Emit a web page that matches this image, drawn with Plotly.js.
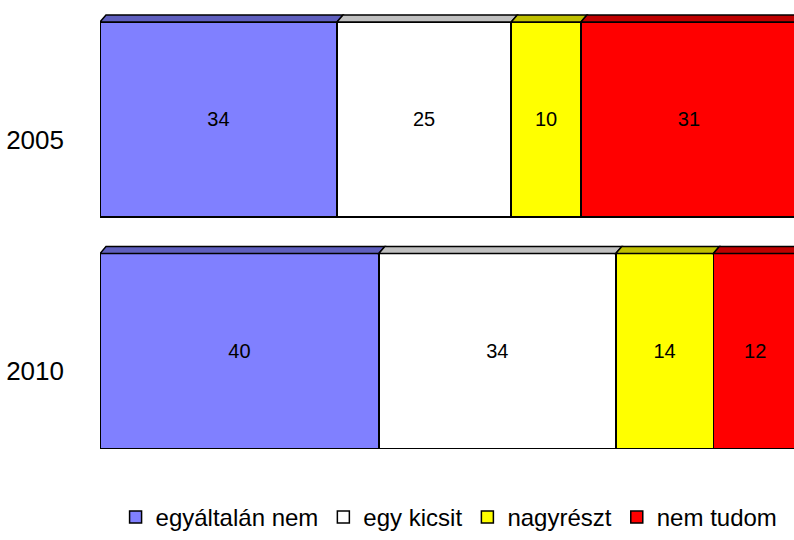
<!DOCTYPE html>
<html>
<head>
<meta charset="utf-8">
<script src="https://cdn.plot.ly/plotly-3.0.1.min.js"></script>
<style>html,body{margin:0;padding:0;background:#fff;}#chart{width:794px;height:540px;}</style>
</head>
<body>
<div id="chart"></div>
<script>
var years = ['2005', '2010'];
var seriesNames = ['egyáltalán nem', 'egy kicsit', 'nagyrészt', 'nem tudom'];
var values = {
  'egyáltalán nem': [34, 40],
  'egy kicsit': [25, 34],
  'nagyrészt': [10, 14],
  'nem tudom': [31, 12]
};
var frontColors = ['#8080FF', '#FFFFFF', '#FFFF00', '#FF0000'];
var topColors = ['#5F5FBE', '#C0C0C0', '#BFBF00', '#BF0000'];

var FONT = '"Liberation Sans", Arial, sans-serif';
var W = 794, H = 540;
var margin = {l: 100, r: 0, t: 0, b: 0};
var xRange = [0, 99.57];
var yRange = [1.816, -0.516];
var barWidth = 0.842;

var plotW = W - margin.l - margin.r;
var plotH = H - margin.t - margin.b;
var pxX = plotW / (xRange[1] - xRange[0]);
var pxY = plotH / Math.abs(yRange[0] - yRange[1]);
var dxD = 6 / pxX, dyD = 7 / pxY;

var traces = seriesNames.map(function (name, i) {
  return {
    type: 'bar',
    orientation: 'h',
    name: name,
    y: years,
    x: values[name],
    width: barWidth,
    text: values[name].map(String),
    textposition: 'inside',
    insidetextanchor: 'middle',
    constraintext: 'none',
    textangle: 0,
    textfont: {family: FONT, size: 20, color: '#000'},
    marker: {color: frontColors[i], line: {color: '#000', width: 1.5}},
    hoverinfo: 'skip'
  };
});

var shapes = [];
years.forEach(function (yr, yi) {
  var cum = 0;
  seriesNames.forEach(function (name, si) {
    var v = values[name][yi];
    var x0 = cum, x1 = cum + v;
    cum = x1;
    var yTop = yi - barWidth / 2;
    var yBack = yTop - dyD;
    shapes.push({
      type: 'path',
      xref: 'x', yref: 'y',
      path: 'M' + x0 + ',' + yTop + ' L' + (x0 + dxD) + ',' + yBack +
            ' L' + (x1 + dxD) + ',' + yBack + ' L' + x1 + ',' + yTop + ' Z',
      fillcolor: topColors[si],
      line: {color: '#000', width: 1.5},
      layer: 'above'
    });
  });
});

var layout = {
  width: W, height: H,
  margin: margin,
  paper_bgcolor: '#fff', plot_bgcolor: '#fff',
  barmode: 'stack',
  bargap: 0,
  font: {family: FONT, color: '#000'},
  showlegend: true,
  legend: {
    orientation: 'h',
    x: 0.503, xanchor: 'center',
    y: 0, yanchor: 'bottom',
    bgcolor: 'rgba(0,0,0,0)',
    font: {family: FONT, size: 24, color: '#000'},
    traceorder: 'normal',
    itemclick: false, itemdoubleclick: false
  },
  xaxis: {
    range: xRange,
    showgrid: false, zeroline: false, showline: false,
    showticklabels: false, ticks: '', fixedrange: true
  },
  yaxis: {
    type: 'category',
    categoryorder: 'array', categoryarray: years,
    range: yRange,
    showgrid: false, zeroline: false, showline: false,
    ticks: '', ticklabelstandoff: 35, ticklabelshift: -20,
    tickfont: {family: FONT, size: 26, color: '#000'},
    fixedrange: true
  },
  shapes: shapes
};

Plotly.newPlot('chart', traces, layout, {displayModeBar: false, staticPlot: true});
</script>
</body>
</html>
